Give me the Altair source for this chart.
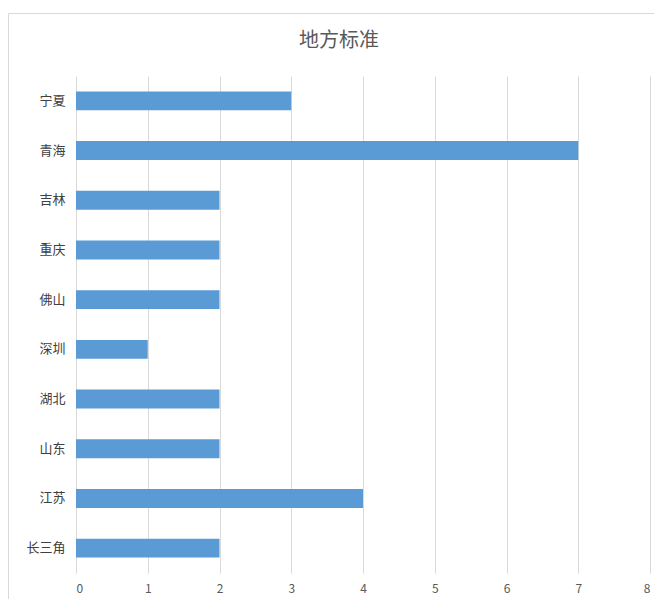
import altair as alt
import pandas as pd

categories = ["宁夏", "青海", "吉林", "重庆", "佛山", "深圳", "湖北", "山东", "江苏", "长三角"]
values = [3, 7, 2, 2, 2, 1, 2, 2, 4, 2]
x_ticks = [0, 1, 2, 3, 4, 5, 6, 7, 8]

df = pd.DataFrame({"region": categories, "count": values})

FONT = "Noto Sans CJK SC"

bars = alt.Chart(df).mark_bar(color="#5B9BD5").encode(
    y=alt.Y("region:N", sort=categories, title=None,
            scale=alt.Scale(paddingInner=0.62, paddingOuter=0.31),
            axis=alt.Axis(domain=False, ticks=False, labelPadding=11,
                          labelFontSize=13, labelColor="#404040", labelFont=FONT,
                          grid=False)),
    x=alt.X("count:Q", title=None,
            scale=alt.Scale(domain=[0, 8], nice=False),
            axis=alt.Axis(values=x_ticks, domain=False, ticks=False, labelPadding=10,
                          labelFontSize=12, labelColor="#595959", labelFont=FONT,
                          grid=True, gridColor="#D9D9D9", gridWidth=1)),
)

# chart-area frame (decoration)
frame = alt.Chart(pd.DataFrame({"f": [0]})).mark_rect(
    fill=None, stroke="#D9D9D9", strokeWidth=1, clip=False
).encode(
    x=alt.value(-67.5), x2=alt.value(700),
    y=alt.value(-62.5), y2=alt.value(540),
)

chart = alt.layer(bars, frame).properties(
    width=574,
    height=497,
    background="white",
    title=alt.TitleParams("地方标准", fontSize=20, font=FONT, color="#595959",
                          fontWeight="normal", anchor="middle", frame="group",
                          dx=-24, offset=-37.5),
    autosize=alt.AutoSizeParams(type="none"),
    padding={"left": 68, "top": 68, "right": 4, "bottom": 26},
).configure_view(stroke="transparent", strokeWidth=0)

chart.save("out.html", embed_options={"renderer": "svg", "actions": False})
